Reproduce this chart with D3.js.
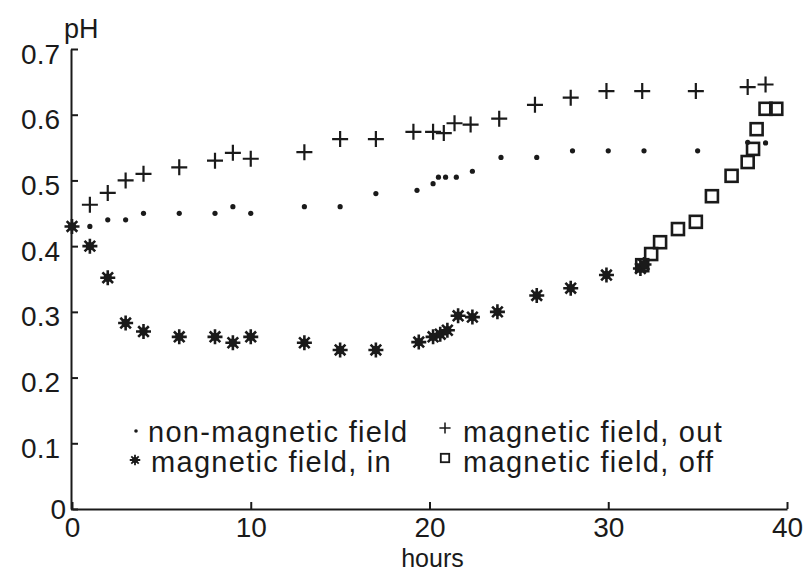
<!DOCTYPE html>
<html>
<head>
<meta charset="utf-8">
<script src="https://cdn.jsdelivr.net/npm/d3@7"></script>
<style>
  body { margin: 0; background: #fff; }
  svg { display: block; }
  text { fill: #1a1a1a; font-family: "Liberation Sans", Arial, sans-serif; }
</style>
</head>
<body>
<svg id="chart" width="804" height="573"></svg>
<script>
// pH readings, [hours, pH]
const nonMagnetic = [
  [0, 0.43], [1, 0.43], [2, 0.44], [3, 0.44], [4, 0.45], [6, 0.45], [8, 0.45],
  [9, 0.46], [10, 0.45], [13, 0.46], [15, 0.46], [17, 0.48], [19.3, 0.485],
  [20.2, 0.495], [20.5, 0.505], [20.9, 0.505], [21.5, 0.505], [22.4, 0.514],
  [24, 0.535], [26, 0.535], [28, 0.545], [30, 0.545], [32, 0.545], [35, 0.545],
  [37.8, 0.558], [38.8, 0.557]
];
const fieldOut = [
  [1, 0.463], [2, 0.481], [3, 0.50], [4, 0.51], [6, 0.52], [8, 0.53], [9, 0.542],
  [10, 0.533], [13, 0.543], [15, 0.563], [17, 0.563], [19.1, 0.574], [20.2, 0.574],
  [20.8, 0.572], [21.4, 0.587], [22.3, 0.585], [23.9, 0.594], [25.9, 0.615],
  [27.9, 0.626], [29.9, 0.636], [31.9, 0.636], [34.9, 0.636], [37.8, 0.642], [38.8, 0.646]
];
const fieldIn = [
  [0, 0.43], [1, 0.40], [2, 0.352], [3, 0.283], [4, 0.27], [6, 0.262], [8, 0.262],
  [9, 0.253], [10, 0.262], [13, 0.253], [15, 0.242], [17, 0.242], [19.4, 0.254],
  [20.2, 0.262], [20.6, 0.266], [21, 0.272], [21.6, 0.294], [22.4, 0.292],
  [23.8, 0.30], [26, 0.325], [27.9, 0.336], [29.9, 0.356], [31.8, 0.366], [32, 0.372]
];
const fieldOff = [
  [31.9, 0.371], [32.4, 0.388], [32.9, 0.406], [33.9, 0.426], [34.9, 0.437],
  [35.8, 0.476], [36.9, 0.507], [37.8, 0.528], [38.1, 0.548], [38.3, 0.578],
  [38.8, 0.609], [39.4, 0.609]
];
const xTicks = [0, 10, 20, 30, 40];
const yTicks = [0, 0.1, 0.2, 0.3, 0.4, 0.5, 0.6, 0.7];
const legendLabels = ["non-magnetic field", "magnetic field, out", "magnetic field, in", "magnetic field, off"];

const svg = d3.select("#chart");
const ink = "#1a1a1a";

const x = d3.scaleLinear().domain([0, 40]).range([72, 787]);
const y = d3.scaleLinear().domain([0, 0.7]).range([509, 49]);

// axes, ticks pointing inward
const xAxis = svg.append("g")
  .attr("transform", `translate(0,${y(0)})`)
  .call(d3.axisBottom(x).tickValues(xTicks).tickSizeInner(-7).tickSizeOuter(0).tickPadding(8));
xAxis.selectAll("text").attr("font-size", 28).attr("font-family", "Liberation Sans");

const yAxis = svg.append("g")
  .attr("transform", `translate(${x(0) - 1},0)`)
  .call(d3.axisLeft(y).tickValues(yTicks)
    .tickFormat(d => d === 0 ? "0" : d3.format(".1f")(d))
    .tickSizeInner(-7).tickSizeOuter(0).tickPadding(11));
yAxis.selectAll("text").attr("font-size", 28).attr("dy", "0.5em").attr("font-family", "Liberation Sans");
yAxis.selectAll(".tick").filter(d => d === 0).select("text").attr("x", -5).attr("dy", "0.35em");

svg.selectAll(".domain, .tick line").attr("stroke", ink).attr("stroke-width", 2);

svg.append("text").attr("x", 64).attr("y", 38).attr("font-size", 27).text("pH");
svg.append("text").attr("x", x(20) + 3).attr("y", 567).attr("text-anchor", "middle")
  .attr("font-size", 25).text("hours");

// marker shapes
function drawDot(g, s) {
  g.append("circle").attr("r", 2.6 * s).attr("fill", ink);
}
function drawPlus(g, s) {
  g.append("path").attr("d", `M${-8 * s},0H${8 * s}M0,${-8 * s}V${8 * s}`)
    .attr("stroke", ink).attr("stroke-width", 2.2 * s).attr("fill", "none");
}
function drawStar(g, s) {
  const r = 7.5 * s;
  const p = d3.range(4).map(i => {
    const a = i * Math.PI / 4;
    return `M${-r * Math.cos(a)},${-r * Math.sin(a)}L${r * Math.cos(a)},${r * Math.sin(a)}`;
  }).join("");
  g.append("path").attr("d", p).attr("stroke", ink).attr("stroke-width", 2.6 * s);
  g.append("circle").attr("r", 4.2 * s).attr("fill", ink);
}
function drawSquare(g, s) {
  g.append("rect").attr("x", -6 * s).attr("y", -6 * s).attr("width", 12 * s).attr("height", 12 * s)
    .attr("fill", "none").attr("stroke", ink).attr("stroke-width", 2.6 * s);
}

function plotSeries(data, draw) {
  svg.append("g").selectAll("g").data(data).join("g")
    .attr("transform", d => `translate(${x(d[0])},${y(d[1])})`)
    .each(function () { draw(d3.select(this), 1); });
}
plotSeries(fieldOff, drawSquare);
plotSeries(fieldOut, drawPlus);
plotSeries(nonMagnetic, drawDot);
plotSeries(fieldIn, drawStar);

// legend
const legend = [
  { label: legendLabels[0], draw: drawDot, mx: 136, my: 431, tx: 148, ty: 442 },
  { label: legendLabels[1], draw: drawPlus, mx: 445, my: 428, tx: 463, ty: 442 },
  { label: legendLabels[2], draw: drawStar, mx: 135, my: 460, tx: 151, ty: 472 },
  { label: legendLabels[3], draw: drawSquare, mx: 445, my: 458, tx: 463, ty: 472 }
];
legend.forEach(l => {
  const g = svg.append("g").attr("transform", `translate(${l.mx},${l.my})`);
  l.draw(g, 0.7);
  svg.append("text").attr("x", l.tx).attr("y", l.ty).attr("font-size", 29)
    .attr("letter-spacing", 1.3).text(l.label);
});
</script>
</body>
</html>
